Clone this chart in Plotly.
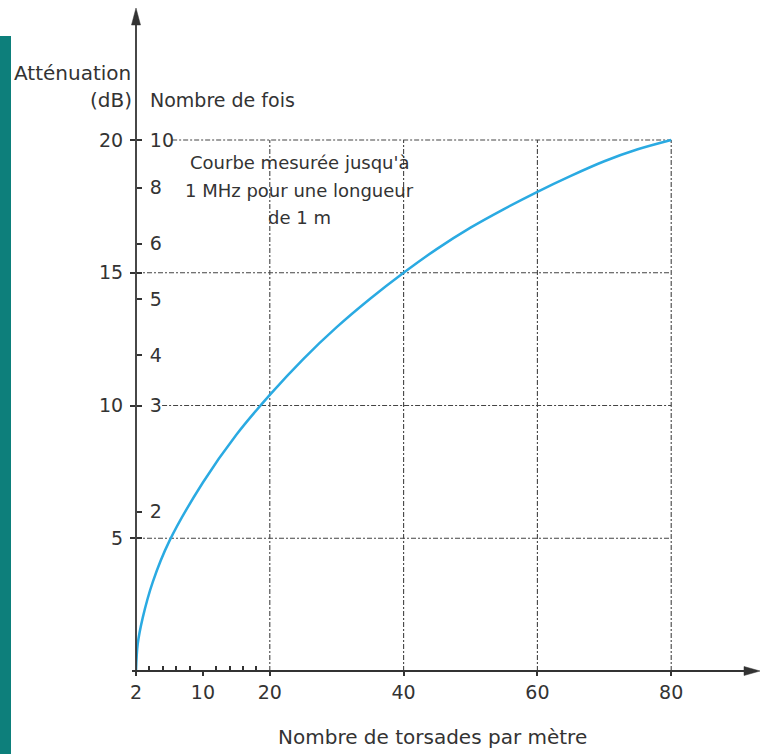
import plotly.graph_objects as go

# ---- data (x in axis position units: 0 = "2 torsades/m") ----
curve_x = [0, 0.25, 1.0, 2.5, 5, 10, 15, 20, 25, 30, 35, 40, 45, 50, 55, 60, 65, 70, 75, 80]
curve_y = [0, 1.0, 2.0, 3.35, 4.9, 7.1, 8.9, 10.4, 11.75, 12.95, 14.02, 15.0, 15.9, 16.7,
           17.4, 18.05, 18.65, 19.2, 19.65, 20.0]

x_tickvals = [0, 10, 20, 40, 60, 80]
x_ticktext = ["2", "10", "20", "40", "60", "80"]
x_minor = [2, 4, 6, 8, 12, 14, 16, 18]

db_tickvals = [5, 10, 15, 20]
db_ticktext = ["5", "10", "15", "20"]

fois_tickvals = [6.0, 10.0, 11.9, 14.0, 16.1, 18.2, 20.0, 5, 15]
fois_ticktext = ["2", "3", "4", "5", "6", "8", "10", "", ""]

note_lines = ["Courbe mesurée jusqu'à", "1 MHz pour une longueur", "de 1 m"]

h_grid = [5, 10, 15, 20]
h_grid_start = [0, 3.9, 0, 5.4]
v_grid = [20, 40, 60, 80]

FONT = "DejaVu Sans"
TXT = "#333333"
AX = "#333333"
GRID = "#444444"

W, H = 761, 754
ML, MR, MT, MB = 136, 2, 12, 83
pw = W - ML - MR
ph = H - MT - MB
XMAX = pw / 6.69
YMAX = ph / 26.55


def px(xp):
    return (xp - ML) / pw


def py(yp):
    return (H - MB - yp) / ph


fig = go.Figure()
fig.add_trace(go.Scatter(
    x=curve_x, y=curve_y, mode="lines",
    line=dict(color="#2aaae2", width=2.5, shape="spline", smoothing=0.9),
    cliponaxis=False, hoverinfo="skip", showlegend=False,
))
fig.add_trace(go.Scatter(x=[0], y=[0], yaxis="y2", mode="markers",
                         marker=dict(opacity=0), showlegend=False, hoverinfo="skip"))

shapes = []
dash = "5px,2px,2px,2px"
for yv, xs in zip(h_grid, h_grid_start):
    shapes.append(dict(type="line", xref="x", yref="y", x0=xs, x1=80, y0=yv, y1=yv,
                       line=dict(color=GRID, width=1.1, dash=dash), layer="below"))
for xv in v_grid:
    shapes.append(dict(type="line", xref="x", yref="y", x0=xv, x1=xv, y0=0, y1=20,
                       line=dict(color=GRID, width=1.1, dash=dash), layer="below"))
# teal side bar
shapes.append(dict(type="rect", xref="paper", yref="paper",
                   x0=px(0), x1=px(11), y0=py(754), y1=py(36),
                   fillcolor="#0d7f7b", line=dict(width=0), layer="below"))
# axis lines
shapes.append(dict(type="line", xref="paper", yref="paper", x0=px(132), x1=px(748),
                   y0=py(671), y1=py(671), line=dict(color=AX, width=1.8), layer="above"))
shapes.append(dict(type="line", xref="paper", yref="paper", x0=px(136), x1=px(136),
                   y0=py(676), y1=py(22), line=dict(color=AX, width=1.8), layer="above"))
# arrowheads
shapes.append(dict(type="path", xref="paper", yref="paper",
                   path=f"M {px(760)},{py(671)} L {px(744)},{py(666.5)} L {px(744)},{py(675.5)} Z",
                   fillcolor=AX, line=dict(color=AX, width=0.5), layer="above"))
shapes.append(dict(type="path", xref="paper", yref="paper",
                   path=f"M {px(136)},{py(8)} L {px(131.5)},{py(25)} L {px(140.5)},{py(25)} Z",
                   fillcolor=AX, line=dict(color=AX, width=0.5), layer="above"))

annotations = [
    dict(text="Atténuation", x=px(133), y=py(73), xref="paper", yref="paper",
         xanchor="right", yanchor="middle", showarrow=False, font=dict(family=FONT, size=20, color=TXT)),
    dict(text="(dB)", x=px(134), y=py(100), xref="paper", yref="paper",
         xanchor="right", yanchor="middle", showarrow=False, font=dict(family=FONT, size=20, color=TXT)),
    dict(text="Nombre de fois", x=px(148), y=py(100), xref="paper", yref="paper",
         xanchor="left", yanchor="middle", showarrow=False, font=dict(family=FONT, size=19, color=TXT)),
    dict(text="Nombre de torsades par mètre", x=px(432), y=py(737),
         xref="paper", yref="paper", xanchor="center", yanchor="middle", showarrow=False,
         font=dict(family=FONT, size=20, color=TXT)),
]
for i, line in enumerate(note_lines):
    annotations.append(dict(text=line, x=px(299), y=py(163 + 27 * i), xref="paper", yref="paper",
                            xanchor="center", yanchor="middle", showarrow=False,
                            font=dict(family=FONT, size=18, color=TXT)))

fig.update_layout(
    width=W, height=H,
    margin=dict(l=ML, r=MR, t=MT, b=MB, pad=0, autoexpand=False),
    paper_bgcolor="white", plot_bgcolor="white",
    showlegend=False,
    shapes=shapes, annotations=annotations,
    xaxis=dict(range=[0, XMAX], showgrid=False, zeroline=False, showline=False,
               automargin=False,
               tickmode="array", tickvals=x_tickvals, ticktext=x_ticktext,
               ticks="outside", ticklen=4, tickwidth=1.5, tickcolor=AX,
               tickfont=dict(family=FONT, size=19, color=TXT),
               minor=dict(tickmode="array", tickvals=x_minor, ticks="inside", ticklen=5,
                          tickwidth=1.5, tickcolor=AX, showgrid=False),
               fixedrange=True),
    yaxis=dict(range=[0, YMAX], showgrid=False, zeroline=False, showline=False,
               automargin=False,
               tickmode="array", tickvals=db_tickvals, ticktext=db_ticktext,
               ticks="outside", ticklen=5, tickwidth=1.5, tickcolor=AX,
               ticklabelstandoff=3,
               tickfont=dict(family=FONT, size=19, color=TXT), fixedrange=True),
    yaxis2=dict(range=[0, YMAX], overlaying="y", side="right", anchor="free", position=0,
                automargin=False,
                showgrid=False, zeroline=False, showline=False,
                tickmode="array", tickvals=fois_tickvals, ticktext=fois_ticktext,
                ticks="outside", ticklen=5, tickwidth=1.5, tickcolor=AX,
                ticklabelstandoff=4,
                tickfont=dict(family=FONT, size=19, color=TXT), fixedrange=True),
)

fig.write_html("out.html", config={"displayModeBar": False},
               post_script="document.body.style.margin='0px';document.body.style.overflow='hidden';")
